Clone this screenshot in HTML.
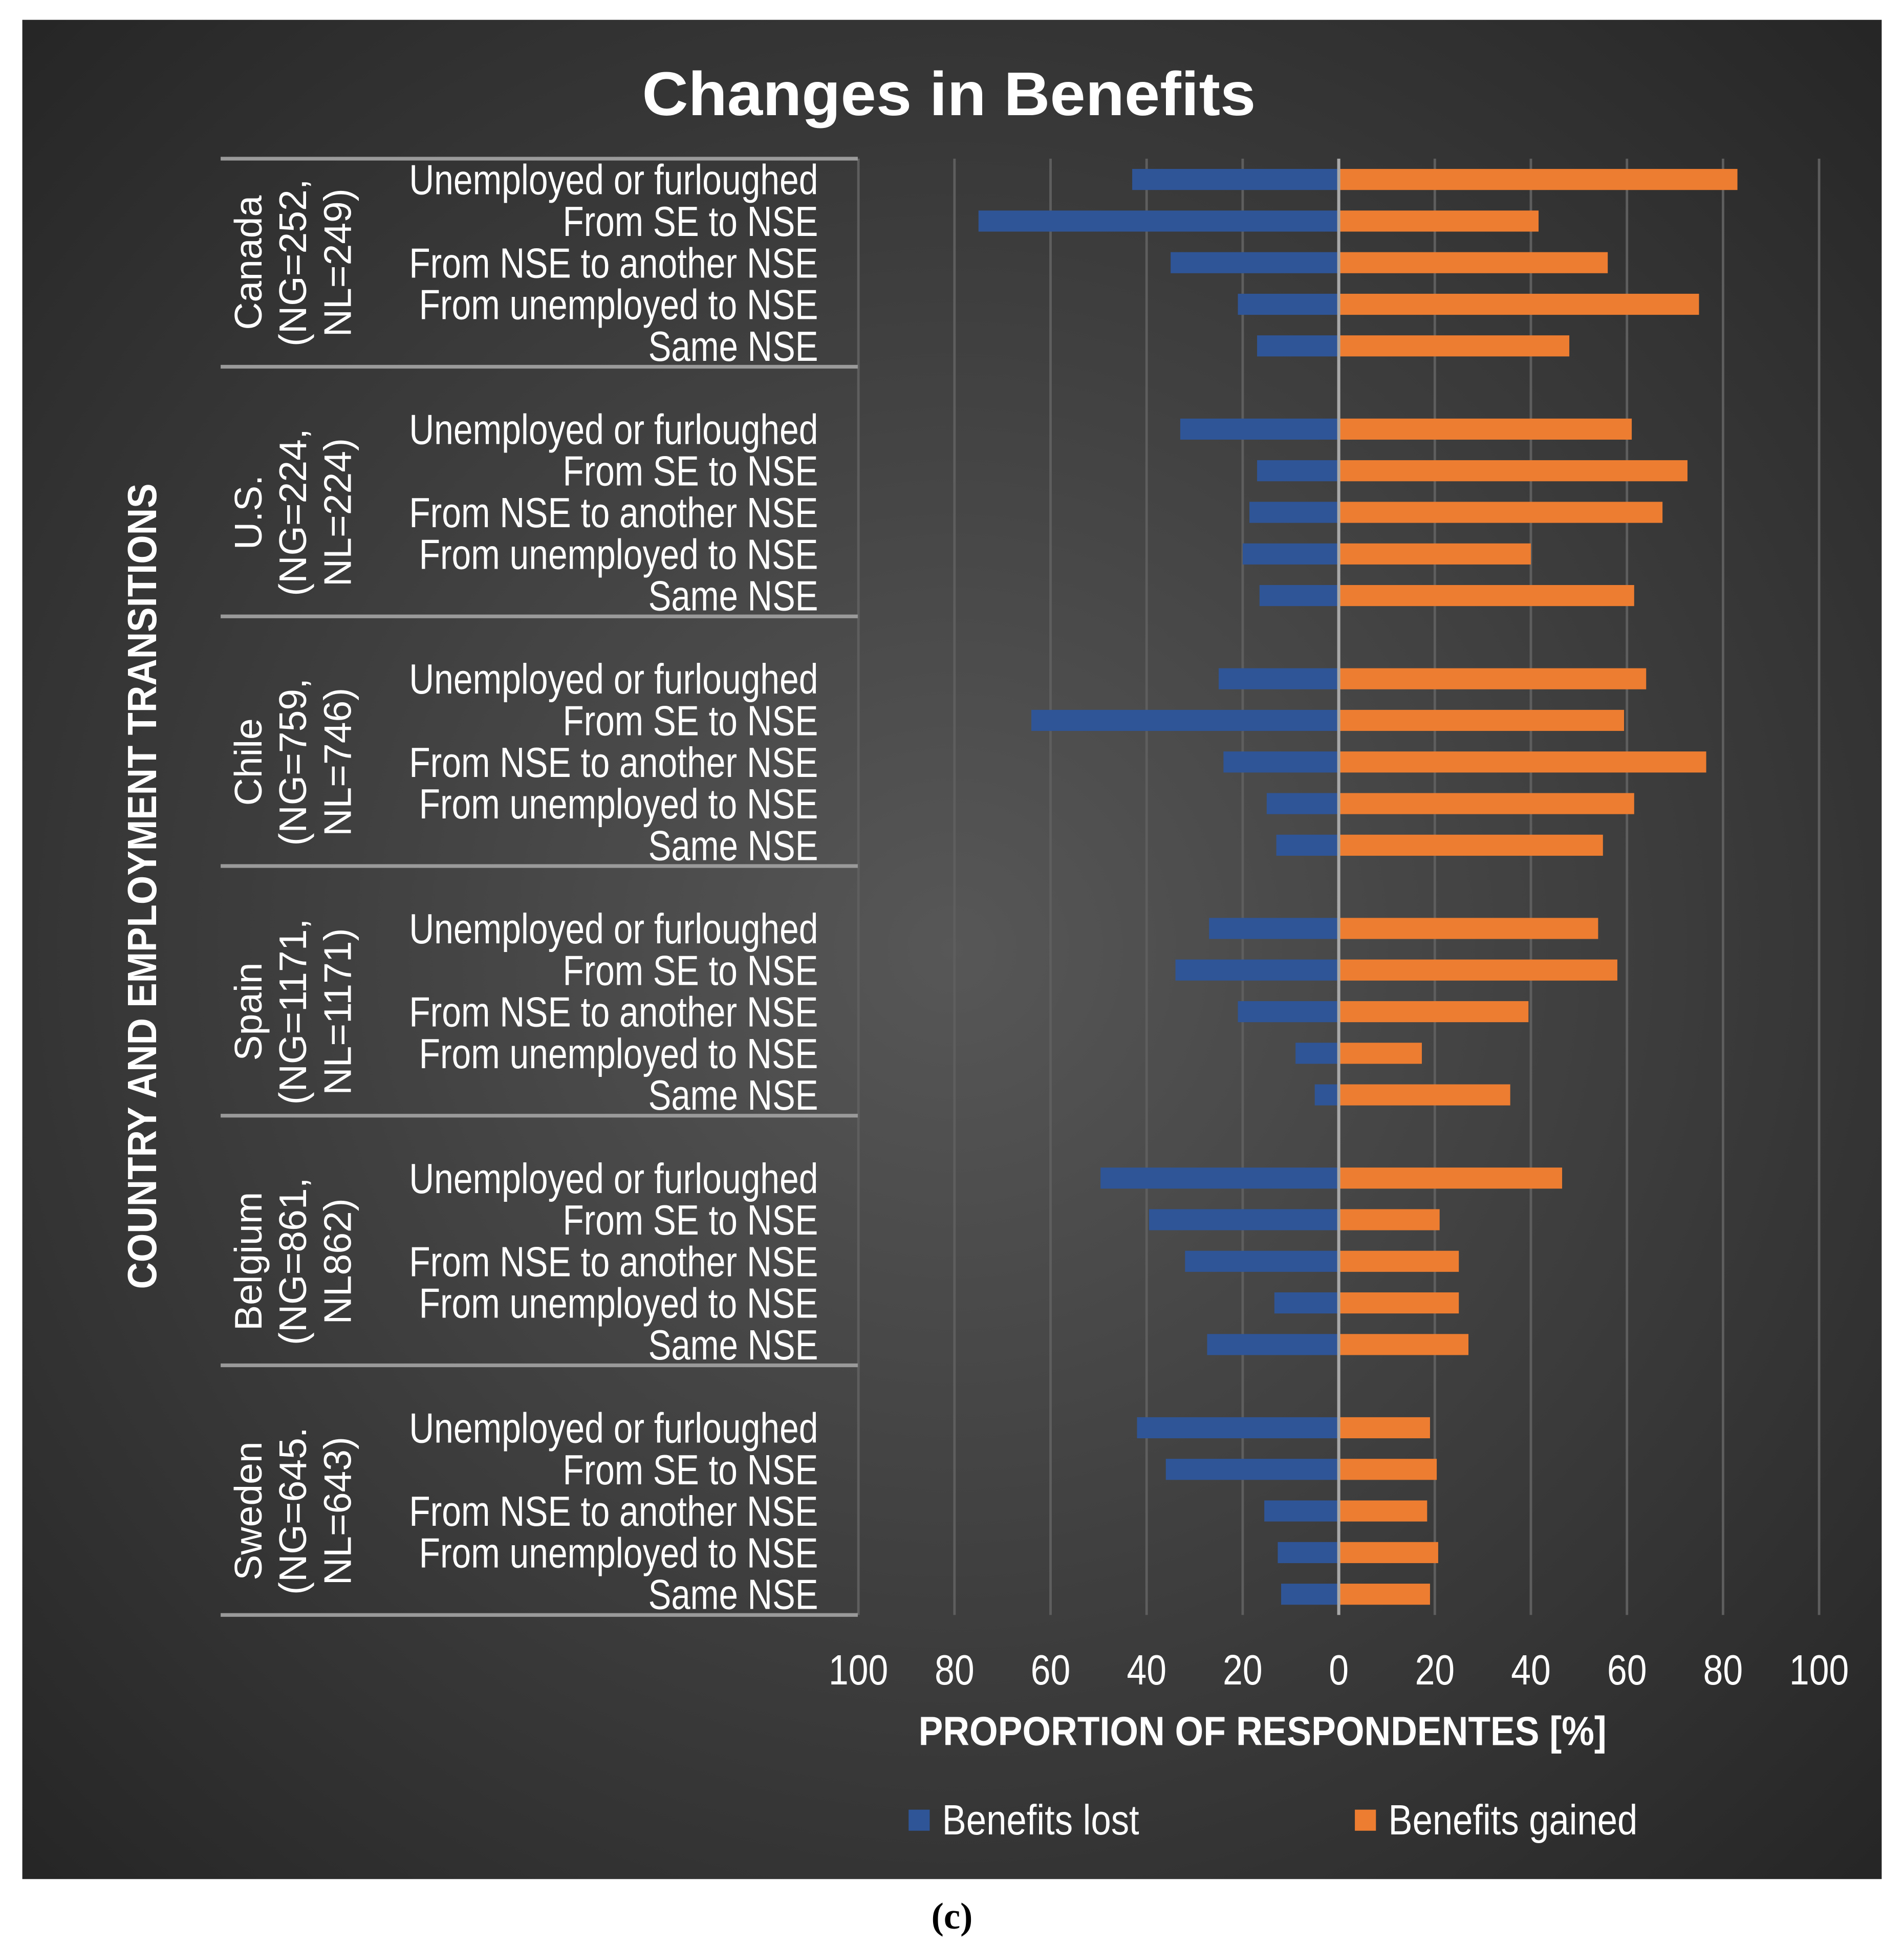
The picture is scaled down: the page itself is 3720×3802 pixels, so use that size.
<!DOCTYPE html>
<html><head><meta charset="utf-8"><style>
html,body{margin:0;padding:0;background:#fff;}
svg{display:block;}
text{font-family:"Liberation Sans Narrow","Liberation Sans",sans-serif;fill:#fff;}
</style></head><body>
<svg id="chart" width="3720" height="3802" viewBox="0 0 1536 1570" preserveAspectRatio="none" xmlns="http://www.w3.org/2000/svg">
<defs>
<radialGradient id="bg" cx="0.5" cy="0.5" r="0.7">
<stop offset="0" stop-color="#575757"/><stop offset="1" stop-color="#262626"/>
</radialGradient>
</defs>
<rect x="18" y="16" width="1500" height="1500" fill="url(#bg)"/>
<text x="518" y="93" font-size="50" font-weight="bold" textLength="495" lengthAdjust="spacingAndGlyphs" style="font-family:'Liberation Sans',sans-serif">Changes in Benefits</text>
<g id="grid"></g>
<g id="seps"></g>
<g id="bars"></g>
<g id="labels"></g>
<g id="ticks"></g>
<text x="741" y="1408" font-size="33" font-weight="bold" textLength="555" lengthAdjust="spacingAndGlyphs">PROPORTION OF RESPONDENTES [%]</text>
<text transform="translate(126,1040) rotate(-90)" font-size="33" font-weight="bold" textLength="650" lengthAdjust="spacingAndGlyphs">COUNTRY AND  EMPLOYMENT TRANSITIONS</text>
<rect x="733" y="1460" width="17" height="17" fill="#2F5597"/>
<text x="760" y="1480" font-size="34" textLength="159" lengthAdjust="spacingAndGlyphs">Benefits lost</text>
<rect x="1093" y="1460" width="17" height="17" fill="#ED7D31"/>
<text x="1120" y="1480" font-size="34" textLength="201" lengthAdjust="spacingAndGlyphs">Benefits gained</text>
<text x="768" y="1556" text-anchor="middle" font-size="30" font-weight="bold" style="font-family:'Liberation Serif',serif;fill:#000">(c)</text>
</svg>
<script>
const countries = ["Canada","U.S.","Chile","Spain","Belgium","Sweden"];
const countryN1 = ["(NG=252,","(NG=224,","(NG=759,","(NG=1171,","(NG=861,","(NG=645."];
const countryN2 = ["NL=249)","NL=224)","NL=746)","NL=1171)","NL862)","NL=643)"];
const transitions = ["Unemployed or furloughed","From SE to NSE","From NSE to another NSE","From unemployed to NSE","Same NSE"];
const lost = [
 [43,75,35,21,17],
 [33,17,18.6,20,16.5],
 [25,64,24,15,13],
 [27,34,21,9,5],
 [49.6,39.5,32,13.4,27.4],
 [42,36,15.5,12.7,12]
];
const gained = [
 [83,41.6,56,75,48],
 [61,72.6,67.4,40,61.5],
 [64,59.4,76.5,61.5,55],
 [54,58,39.5,17.3,35.7],
 [46.5,21,25,25,27],
 [19,20.4,18.4,20.7,19]
];
const tickValues = [100,80,60,40,20,0,20,40,60,80,100];
const tickSigned = [-100,-80,-60,-40,-20,0,20,40,60,80,100];

const NS="http://www.w3.org/2000/svg";
const x0=1080, pxPer=3.875, plotTop=128, slot=33.57, barH=17;
const xs=v=>x0+v*pxPer;
const rowY=(g,i)=>plotTop+(g*6+i+0.5)*slot;
function mk(tag,attrs,parent){const e=document.createElementNS(NS,tag);for(const k in attrs)e.setAttribute(k,attrs[k]);parent.appendChild(e);return e;}
const grid=document.getElementById('grid'),seps=document.getElementById('seps'),bars=document.getElementById('bars'),labels=document.getElementById('labels'),ticks=document.getElementById('ticks');
tickSigned.forEach((t,i)=>{
 if(t!==0){const l=mk('line',{x1:xs(t),x2:xs(t),y1:plotTop,y2:plotTop+35*slot,stroke:'#5e5e5e','stroke-width':2},grid);
 
 }
 const s=String(tickValues[i]);
 const tx=mk('text',{x:xs(t),y:1359,'text-anchor':'middle','font-size':34,textLength:s.length*16,lengthAdjust:'spacingAndGlyphs'},ticks);
 tx.textContent=s;
 
 
});
for(let k=0;k<=6;k++){
 const y=k===0?plotTop:plotTop+(6*k-1)*slot;
 const l=mk('line',{x1:178,x2:692,y1:y,y2:y,stroke:'#9a9a9a','stroke-width':3},seps);
 
 
}
const lens=[330,206,330,322,137];
countries.forEach((c,g)=>{
 transitions.forEach((t,i)=>{
  const y=rowY(g,i);
  const bl=lost[g][i], bg=gained[g][i];
  const r1=mk('rect',{x:xs(-bl),y:y-barH/2,width:bl*pxPer,height:barH,fill:'#2F5597'},bars);
  
  
  const r2=mk('rect',{x:x0,y:y-barH/2,width:bg*pxPer,height:barH,fill:'#ED7D31'},bars);
  
  
  const tx=mk('text',{x:660,y:y+12,'text-anchor':'end','font-size':34,textLength:lens[i],lengthAdjust:'spacingAndGlyphs'},labels);
  tx.textContent=t;
  
  
 });
 const cy=rowY(g,2);
 const lines=[c,countryN1[g],countryN2[g]];
 lines.forEach((s,j)=>{
  const tx=mk('text',{transform:`translate(${211+j*36},${cy}) rotate(-90)`,'text-anchor':'middle','font-size':31,style:"font-family:'Liberation Sans',sans-serif"},labels);
  tx.textContent=s;
  
  
 });
});
const z=mk('line',{x1:x0,x2:x0,y1:plotTop,y2:plotTop+35*slot,stroke:'#a8a8a8','stroke-width':2.5},bars);


</script>
</body></html>
